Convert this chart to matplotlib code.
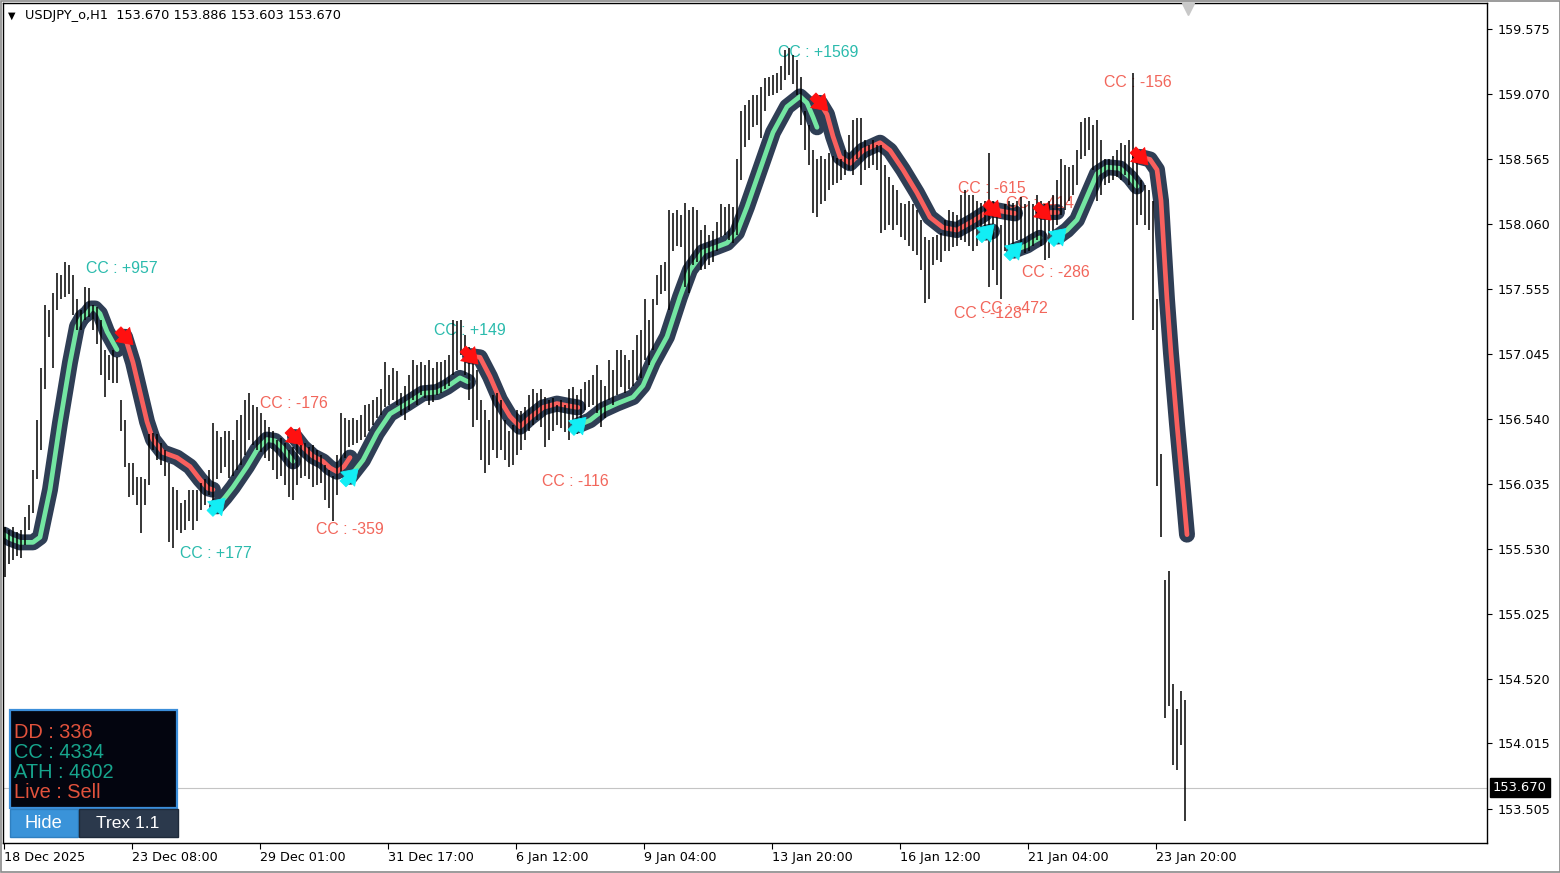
"""USDJPY H1 chart with the Trex trend line, redrawn in matplotlib."""

import matplotlib

matplotlib.use("Agg")
import matplotlib.pyplot as plt
import matplotlib.transforms as mtransforms
from matplotlib.patches import Rectangle

W_PX, H_PX = 1560, 873

SYMBOL = "USDJPY_o,H1"
LAST_OHLC = [153.670, 153.886, 153.603, 153.670]
LAST_PRICE = 153.670

# 2-hour bars, oldest first (bar k covers hours 2k .. 2k+1 from 18 Dec 16:00)
HIGH = [
    155.70, 155.68, 155.70, 155.66, 155.68, 155.78, 155.87, 156.14, 156.53, 156.94,
    157.43, 157.39, 157.52, 157.68, 157.66, 157.76, 157.74, 157.66, 157.47, 157.39,
    157.57, 157.56, 157.43, 157.41, 157.31, 157.08, 157.04, 157.08, 157.02, 156.69,
    156.53, 156.20, 156.20, 156.09, 156.09, 156.07, 156.42, 156.43, 156.42, 156.35,
    156.30, 156.20, 156.01, 155.99, 155.89, 155.91, 155.99, 155.99, 155.99, 156.04,
    156.07, 156.14, 156.51, 156.45, 156.40, 156.45, 156.45, 156.38, 156.53, 156.57,
    156.69, 156.74, 156.65, 156.63, 156.59, 156.53, 156.48, 156.45, 156.38, 156.39,
    156.35, 156.30, 156.32, 156.38, 156.34, 156.35, 156.32, 156.34, 156.30, 156.26,
    156.18, 156.14, 156.10, 156.26, 156.59, 156.55, 156.53, 156.55, 156.53, 156.57,
    156.65, 156.66, 156.69, 156.71, 156.77, 156.98, 156.88, 156.94, 156.91, 156.74,
    156.80, 156.88, 157.00, 156.96, 156.98, 156.96, 157.00, 156.94, 156.98, 156.98,
    157.00, 157.04, 157.31, 157.30, 157.31, 157.19, 157.10, 157.08, 156.92, 156.69,
    156.61, 156.53, 156.73, 156.74, 156.69, 156.53, 156.45, 156.49, 156.61, 156.60,
    156.63, 156.73, 156.77, 156.74, 156.77, 156.71, 156.69, 156.70, 156.65, 156.69,
    156.65, 156.77, 156.79, 156.73, 156.77, 156.83, 156.84, 156.88, 156.96, 156.84,
    156.80, 157.00, 156.92, 157.08, 157.08, 157.04, 157.00, 157.08, 157.19, 157.23,
    157.47, 157.31, 157.47, 157.66, 157.74, 157.76, 158.17, 158.14, 158.17, 158.13,
    158.22, 158.17, 158.19, 158.17, 158.01, 158.05, 157.97, 158.00, 158.07, 158.21,
    158.19, 158.21, 158.19, 158.56, 158.94, 158.98, 159.02, 159.06, 159.06, 159.12,
    159.19, 159.20, 159.22, 159.23, 159.29, 159.41, 159.43, 159.37, 159.33, 159.20,
    158.94, 158.83, 158.63, 158.56, 158.59, 158.56, 158.61, 158.59, 158.57, 158.56,
    158.63, 158.75, 158.87, 158.88, 158.88, 158.71, 158.67, 158.71, 158.67, 158.67,
    158.52, 158.42, 158.36, 158.32, 158.22, 158.21, 158.24, 158.21, 158.17, 158.09,
    157.96, 157.93, 157.96, 157.97, 157.99, 158.09, 158.17, 158.15, 158.13, 158.28,
    158.32, 158.28, 158.28, 158.24, 158.22, 158.24, 158.61, 158.24, 158.13, 158.05,
    158.21, 158.24, 158.22, 158.24, 158.27, 158.21, 158.24, 158.21, 158.28, 158.24,
    158.21, 158.24, 158.28, 158.40, 158.56, 158.52, 158.50, 158.52, 158.63, 158.85,
    158.88, 158.89, 158.83, 158.87, 158.71, 158.56, 158.56, 158.59, 158.63, 158.69,
    158.67, 158.71, 159.23, 158.63, 158.40, 158.36, 158.32, 158.24, 157.47, 156.27,
    155.29, 155.36, 154.48, 154.28, 154.42, 154.35,
]
LOW = [
    155.31, 155.41, 155.44, 155.47, 155.46, 155.56, 155.68, 155.81, 156.07, 156.30,
    156.77, 157.18, 156.94, 157.39, 157.47, 157.49, 157.51, 157.35, 157.23, 157.23,
    157.31, 157.33, 157.23, 157.12, 156.88, 156.71, 156.84, 156.82, 156.82, 156.45,
    156.17, 155.93, 155.95, 155.87, 155.65, 155.87, 156.03, 156.30, 156.22, 156.18,
    156.10, 155.58, 155.54, 155.68, 155.65, 155.68, 155.75, 155.68, 155.75, 155.83,
    155.87, 155.95, 155.81, 156.07, 156.12, 156.17, 156.08, 156.10, 156.14, 156.18,
    156.26, 156.38, 156.34, 156.30, 156.28, 156.24, 156.21, 156.14, 156.07, 156.10,
    156.03, 155.93, 155.91, 156.03, 156.08, 156.10, 156.07, 156.01, 156.03, 156.04,
    155.91, 155.85, 155.75, 155.95, 156.12, 156.24, 156.32, 156.34, 156.35, 156.38,
    156.40, 156.45, 156.49, 156.55, 156.57, 156.63, 156.65, 156.69, 156.65, 156.57,
    156.53, 156.61, 156.69, 156.65, 156.73, 156.70, 156.65, 156.67, 156.73, 156.74,
    156.77, 156.80, 156.88, 156.92, 157.04, 156.88, 156.69, 156.48, 156.53, 156.22,
    156.12, 156.18, 156.30, 156.24, 156.30, 156.22, 156.17, 156.18, 156.26, 156.30,
    156.38, 156.45, 156.49, 156.53, 156.48, 156.32, 156.38, 156.45, 156.49, 156.47,
    156.44, 156.38, 156.44, 156.42, 156.47, 156.61, 156.63, 156.65, 156.59, 156.48,
    156.55, 156.69, 156.65, 156.73, 156.79, 156.74, 156.77, 156.80, 156.84, 156.86,
    157.00, 156.96, 157.08, 157.43, 157.51, 157.54, 157.39, 157.85, 157.89, 157.88,
    157.57, 157.52, 157.74, 157.76, 157.70, 157.71, 157.74, 157.76, 157.85, 157.96,
    157.97, 157.93, 157.91, 157.97, 158.40, 158.66, 158.71, 158.81, 158.83, 158.73,
    158.94, 159.05, 159.06, 159.08, 159.10, 159.18, 159.22, 159.15, 159.06, 158.83,
    158.63, 158.52, 158.14, 158.11, 158.21, 158.24, 158.32, 158.36, 158.38, 158.40,
    158.44, 158.48, 158.44, 158.56, 158.36, 158.48, 158.49, 158.52, 158.48, 157.99,
    158.01, 158.05, 158.01, 158.05, 157.96, 157.93, 157.89, 157.85, 157.82, 157.70,
    157.44, 157.47, 157.74, 157.78, 157.76, 157.85, 157.85, 157.88, 157.89, 157.93,
    157.92, 157.89, 157.85, 157.89, 157.93, 157.97, 157.57, 157.70, 157.58, 157.47,
    157.85, 157.89, 157.88, 157.93, 157.89, 157.83, 157.85, 157.89, 157.93, 157.89,
    157.78, 157.79, 157.93, 158.05, 158.13, 158.17, 158.24, 158.28, 158.36, 158.56,
    158.59, 158.63, 158.48, 158.24, 158.28, 158.36, 158.38, 158.40, 158.42, 158.40,
    158.44, 158.36, 157.31, 158.05, 158.13, 158.05, 158.01, 157.23, 156.02, 155.62,
    154.21, 154.31, 153.85, 153.81, 154.00, 153.41,
]

# Trex trend line: points (hour, price), split into segments by trend
MA_HOUR = [
    0, 3, 8, 14.5, 18, 23, 28, 33, 36.5, 39, 41.5, 43.5, 45.5, 48, 51.5, 56.5,
    60.5, 64.5, 68, 71.5, 74.5, 79.5, 86.5, 93, 98, 102, 104.5,
    106.5, 110.5, 114.5, 121.5, 126.5, 131.5, 135.5, 139.5, 144.5,
    145.5, 149.5, 154.5, 159.5, 163, 166.5, 170, 173,
    173, 179.5, 186.5, 193, 201.5, 209.5, 216.5, 221.5, 228, 232,
    233, 238, 243, 248, 253, 258, 263, 269.5, 276.5, 283, 287,
    287, 293, 299.5, 306.5, 314.5, 319.5, 324.5, 331.5, 338, 343, 349.5,
    356.5, 361.5, 366.5, 371.5, 378, 384.5, 391.5, 398, 401.5, 404.5, 406.5,
    408, 411.5, 414.5, 418, 423, 429.5, 438, 443, 449.5, 456.5, 463, 469.5,
    476.5, 484.5, 490.5,
    491, 494,
    494.5, 498, 501.5, 505.5,
    505, 508, 511.5, 514.5, 518,
    519.5, 523, 526.5,
    527, 531.5, 536.5, 541.5, 546.5, 551.5, 558, 563, 566.5,
    568, 573, 576.5, 578.5, 580, 581.5, 583.5, 586.5, 589.5, 591.5,
]
MA_PRICE = [
    155.64, 155.61, 155.58, 155.58, 155.62, 155.99, 156.51, 156.98, 157.26, 157.33,
    157.36, 157.40, 157.40, 157.36, 157.22, 157.08,
    157.18, 156.98, 156.75, 156.52, 156.38, 156.28, 156.24, 156.17, 156.07, 156.00, 155.99,
    155.86, 155.93, 156.01, 156.17, 156.30, 156.38, 156.37, 156.31, 156.21,
    156.40, 156.32, 156.25, 156.21, 156.16, 156.13, 156.17, 156.24,
    156.09, 156.22, 156.43, 156.58, 156.66, 156.74, 156.75, 156.79, 156.86, 156.83,
    157.03, 157.02, 156.87, 156.69, 156.56, 156.48, 156.55, 156.63, 156.66, 156.64, 156.63,
    156.49, 156.53, 156.61, 156.66, 156.71, 156.80, 156.98, 157.18, 157.49, 157.70, 157.84,
    157.88, 157.91, 157.99, 158.19, 158.48, 158.77, 158.97, 159.05, 159.00, 158.89, 158.81,
    159.00, 158.91, 158.74, 158.58, 158.53, 158.63, 158.69, 158.63, 158.48, 158.30,
    158.11, 158.03, 158.01, 158.08, 158.14,
    157.99, 158.00,
    158.17, 158.16, 158.15, 158.14,
    157.85, 157.87, 157.89, 157.92, 157.95,
    158.15, 158.15, 158.15,
    157.96, 158.01, 158.09, 158.27, 158.45, 158.50, 158.49, 158.42, 158.35,
    158.58, 158.56, 158.48, 158.24, 157.85, 157.47, 157.05, 156.50, 155.99, 155.64,
]
SEG_TREND = ["up", "down", "up", "down", "up", "down", "up", "down",
             "up", "down", "up", "down", "up", "down"]
SEG_LEN = [16, 11, 9, 8, 10, 11, 22, 15, 2, 4, 5, 3, 9, 10]

# "CC" result labels: text, hour and price of the label's left / middle
CC_TEXT = ["CC : +957", "CC : -176", "CC : +177", "CC : -359", "CC : +149",
           "CC : -116", "CC : +1569", "CC : -615", "CC : -414", "CC : -286",
           "CC : -128", "CC : -472", "CC : -156"]
CC_HOUR = [41, 128, 88, 156, 215, 269, 387, 477, 501, 509, 475, 488, 550]
CC_PRICE = [157.71, 156.66, 155.49, 155.68, 157.23, 156.05, 159.39, 158.33,
            158.22, 157.68, 157.36, 157.40, 159.16]

PRICE_TICKS = [159.575, 159.070, 158.565, 158.060, 157.555, 157.045, 156.540,
               156.035, 155.530, 155.025, 154.520, 154.015, 153.505]
DATE_HOURS = [0, 64, 128, 192, 256, 320, 384, 448, 512, 576]
DATE_LABELS = ["18 Dec 2025", "23 Dec 08:00", "29 Dec 01:00", "31 Dec 17:00",
               "6 Jan 12:00", "9 Jan 04:00", "13 Jan 20:00", "16 Jan 12:00",
               "21 Jan 04:00", "23 Jan 20:00"]

PANEL_LINES = [("DD : 336", "down"), ("CC : 4334", "up"),
               ("ATH : 4602", "up"), ("Live : Sell", "down")]

OUTLINE = "#2F3E55"
LINE_UP = "#74E6A2"
LINE_DOWN = "#F9605E"
ARROW_UP = "#12EEF5"
ARROW_DOWN = "#FF1010"
TXT_UP = "#2BBBAD"
TXT_DOWN = "#F2665B"


def px_rect(fig, x0, y0, x1, y1, **kw):
    r = Rectangle((x0 / W_PX, 1 - y1 / H_PX), (x1 - x0) / W_PX, (y1 - y0) / H_PX,
                  transform=fig.transFigure, **kw)
    fig.add_artist(r)
    return r


def px_text(fig, x, y, s, **kw):
    fig.text(x / W_PX, 1 - y / H_PX, s, **kw)


def signal_arrow(ax, fig, h, p, trend):
    # tip and tail offsets in pixels around the segment start
    if trend == "up":
        tip, tail, color = (8, 8), (-7, -7), ARROW_UP
    else:
        tip, tail, color = (8, -8), (-7, 7), ARROW_DOWN
    tr = mtransforms.offset_copy(ax.transData, fig=fig, x=tip[0], y=tip[1], units="dots")
    ax.annotate("", xy=(h, p), xycoords=tr,
                xytext=(tail[0] - tip[0], tail[1] - tip[1]), textcoords="offset pixels",
                arrowprops=dict(arrowstyle="simple,head_length=0.7,head_width=0.95,"
                                           "tail_width=0.4",
                                facecolor=color, edgecolor=color, lw=0.6,
                                shrinkA=0, shrinkB=0, mutation_scale=15),
                zorder=6)


def main() -> None:
    fig = plt.figure(figsize=(W_PX / 100, H_PX / 100), dpi=100, facecolor="white")
    ax = fig.add_axes([3 / W_PX, (H_PX - 843) / H_PX, 1484 / W_PX, 840 / H_PX])
    ax.set_xlim(-0.5, 741.5)
    ax.set_ylim(153.2404, 159.7774)

    # current price line
    ax.axhline(LAST_PRICE, color="#C4C4C4", lw=0.8, zorder=1)

    # trend line segments
    start = 0
    for trend, n in zip(SEG_TREND, SEG_LEN):
        hs = MA_HOUR[start:start + n]
        ps = MA_PRICE[start:start + n]
        ax.plot(hs, ps, color=OUTLINE, lw=11.5, solid_capstyle="round",
                solid_joinstyle="round", zorder=2)
        ax.plot(hs, ps, color=LINE_UP if trend == "up" else LINE_DOWN, lw=3.4,
                solid_capstyle="round", solid_joinstyle="round", zorder=2)
        start += n

    # price bars
    hours = [2 * k + 0.5 for k in range(len(HIGH))]
    ax.vlines(hours, LOW, HIGH, color="black", lw=1.1, zorder=3)

    # signal arrows at the start of every segment after the first
    start = SEG_LEN[0]
    for trend, n in zip(SEG_TREND[1:], SEG_LEN[1:]):
        signal_arrow(ax, fig, MA_HOUR[start], MA_PRICE[start], trend)
        start += n

    for txt, h, p in zip(CC_TEXT, CC_HOUR, CC_PRICE):
        color = TXT_UP if "+" in txt else TXT_DOWN
        ax.text(h, p, txt, color=color, fontsize=11.4, family="Liberation Sans",
                ha="left", va="center", zorder=2.5)

    # axes look
    for sp in ax.spines.values():
        sp.set_color("black")
        sp.set_linewidth(1.0)
    ax.yaxis.tick_right()
    ax.set_yticks(PRICE_TICKS)
    ax.set_yticklabels([f"{v:.3f}" for v in PRICE_TICKS])
    ax.set_xticks(DATE_HOURS)
    ax.set_xticklabels(DATE_LABELS)
    ax.tick_params(axis="y", direction="out", length=3.5, width=0.8, pad=4,
                   labelsize=9.2, colors="black")
    ax.tick_params(axis="x", direction="out", length=4, width=0.8, pad=1.5,
                   labelsize=9.2, colors="black")
    for lbl in ax.get_xticklabels():
        lbl.set_ha("left")

    # last price tag on the scale
    ax.text(1.0 + 6 / 1484, LAST_PRICE, f"{LAST_PRICE:.3f}",
            transform=mtransforms.blended_transform_factory(ax.transAxes, ax.transData),
            ha="left", va="center", fontsize=9.4, color="white", clip_on=False,
            bbox=dict(boxstyle="square,pad=0.22", facecolor="black", edgecolor="black"),
            zorder=7)

    # shift marker at the top
    ax.plot([592], [0.993], marker="v", markersize=9, color="#C8C8C8", mec="#C8C8C8",
            transform=mtransforms.blended_transform_factory(ax.transData, ax.transAxes),
            clip_on=False, zorder=7)

    # header
    px_text(fig, 8, 16, "\u25BC", fontsize=7, color="black", va="center", ha="left")
    o, hi, lo, c = LAST_OHLC
    px_text(fig, 25, 16, f"{SYMBOL}  {o:.3f} {hi:.3f} {lo:.3f} {c:.3f}",
            fontsize=9.3, color="black", va="center", ha="left")

    # info panel
    px_rect(fig, 10, 710, 177, 808, facecolor="#03050F", edgecolor="#3B8EDA", lw=1.6,
            zorder=10)
    for i, (line, kind) in enumerate(PANEL_LINES):
        px_text(fig, 14, 732 + 20 * i, line, fontsize=14.4, family="Liberation Sans",
                color="#E2523C" if kind == "down" else "#17A68D",
                va="center", ha="left", zorder=11)
    px_rect(fig, 10, 809, 78, 837, facecolor="#3A93D9", edgecolor="#2F7FC0", lw=1.0,
            zorder=10)
    px_rect(fig, 79, 809, 178, 837, facecolor="#2B394C", edgecolor="#1E2A3A", lw=1.0,
            zorder=10)
    px_text(fig, 43, 823, "Hide", fontsize=13.2, family="Liberation Sans",
            color="white", ha="center", va="center", zorder=11)
    px_text(fig, 128, 823, "Trex 1.1", fontsize=12.5, family="Liberation Sans",
            color="white", ha="center", va="center", zorder=11)

    # window frame
    px_rect(fig, 0.5, 0.5, W_PX - 0.5, H_PX - 1.5, fill=False, edgecolor="#8A8A8A",
            lw=1.2, zorder=12)

    fig.savefig("out.png", dpi=100, facecolor="white")
    plt.close(fig)


if __name__ == "__main__":
    main()
